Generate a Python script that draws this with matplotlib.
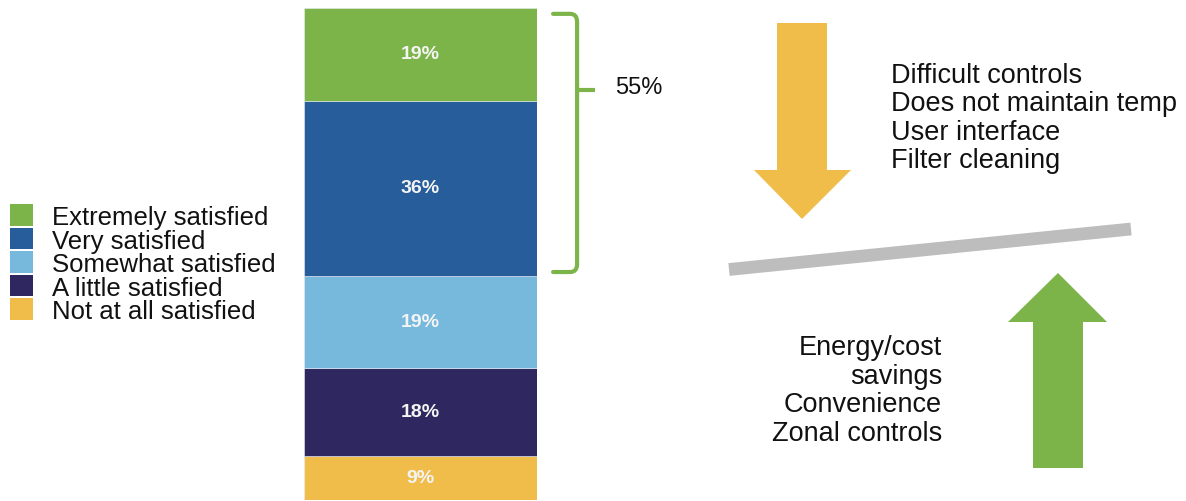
import matplotlib
matplotlib.use("Agg")
import matplotlib.pyplot as plt
from matplotlib.patches import Polygon, Rectangle
from matplotlib.path import Path
from matplotlib.patches import PathPatch

plt.rcParams["font.family"] = ["Liberation Sans", "DejaVu Sans"]

# satisfaction shares, listed top of bar to bottom
categories = ["Extremely satisfied", "Very satisfied", "Somewhat satisfied",
              "A little satisfied", "Not at all satisfied"]
shares = [19, 36, 19, 18, 9]
colors = ["#7db44a", "#275d9a", "#76b9dc", "#2f275f", "#f0bd4b"]

pain_points = ["Difficult controls", "Does not maintain temp",
               "User interface", "Filter cleaning"]
benefits = ["Energy/cost", "savings", "Convenience", "Zonal controls"]

W, H = 1186, 501
fig = plt.figure(figsize=(W / 100, H / 100), dpi=100)
fig.patch.set_facecolor("white")

# stacked bar, drawn bottom-up
ax = fig.add_axes([304 / W, 1 - 500 / H, 233 / W, 492 / H])
total = sum(shares)
bottom = 0
for cat, val, col in zip(categories[::-1], shares[::-1], colors[::-1]):
    ax.bar(0.5, val, width=1.0, bottom=bottom, color=col,
           edgecolor="#e8eef5", linewidth=0.4)
    ax.text(0.5, bottom + val / 2, f"{val}%", ha="center", va="center",
            color="#f4f4f4", fontsize=14, fontweight="bold")
    bottom += val
ax.set_xlim(0, 1)
ax.set_ylim(0, total)
ax.axis("off")

# bracket over the top two segments
top_two = shares[0] + shares[1]
y_top = total - 1.2
y_bot = total - top_two + 0.8
y_tip = 84.2
x0, xv, xt = 1.069, 1.172, 1.249
r = 1.6
verts = [(x0, y_top), (xv - 0.03, y_top), (xv, y_top), (xv, y_top - r),
         (xv, y_bot + r), (xv, y_bot), (xv - 0.03, y_bot), (x0, y_bot)]
codes = [Path.MOVETO, Path.LINETO, Path.CURVE3, Path.CURVE3,
         Path.LINETO, Path.CURVE3, Path.CURVE3, Path.LINETO]
green = colors[0]
ax.add_patch(PathPatch(Path(verts, codes), fill=False, edgecolor=green,
                       linewidth=3.0, capstyle="round", joinstyle="round",
                       clip_on=False))
ax.plot([xv, xt], [y_tip, y_tip], color=green, linewidth=3.0,
        solid_capstyle="butt", clip_on=False)
ax.text(1.335, y_tip + 0.4, f"{top_two}%", ha="left", va="center",
        fontsize=17, color="#111111")

# overlay in pixel coordinates for the legend and the balance graphic
ov = fig.add_axes([0, 0, 1, 1])
ov.set_xlim(0, W)
ov.set_ylim(H, 0)
ov.axis("off")
ov.patch.set_alpha(0)

for i, (cat, col) in enumerate(zip(categories, colors)):
    base = 225 + i * 23.5
    ov.add_patch(Rectangle((10, base - 21), 23, 21.5, facecolor=col,
                           edgecolor="none"))
    ov.text(52, base, cat, ha="left", va="baseline", fontsize=18.5,
            color="#111111")

# down arrow (pain points)
down = [(777, 23), (827, 23), (827, 170), (851, 170), (802, 219),
        (754, 170), (777, 170)]
ov.add_patch(Polygon(down, closed=True, facecolor=colors[4], edgecolor="none"))

# up arrow (benefits)
up = [(1033, 468), (1083, 468), (1083, 322), (1107, 322), (1058, 273),
      (1008, 322), (1033, 322)]
ov.add_patch(Polygon(up, closed=True, facecolor=green, edgecolor="none"))

# tilted balance beam
ov.plot([729, 1131], [269.5, 229], color="#bdbdbd", linewidth=9.2,
        solid_capstyle="butt")

for i, line in enumerate(pain_points):
    ov.text(891, 83 + i * 28.4, line, ha="left", va="baseline",
            fontsize=19.5, color="#111111")

for i, line in enumerate(benefits):
    ov.text(942, 355 + i * 28.7, line, ha="right", va="baseline",
            fontsize=19.5, color="#111111")

fig.savefig("out.png", dpi=100, facecolor="white")
